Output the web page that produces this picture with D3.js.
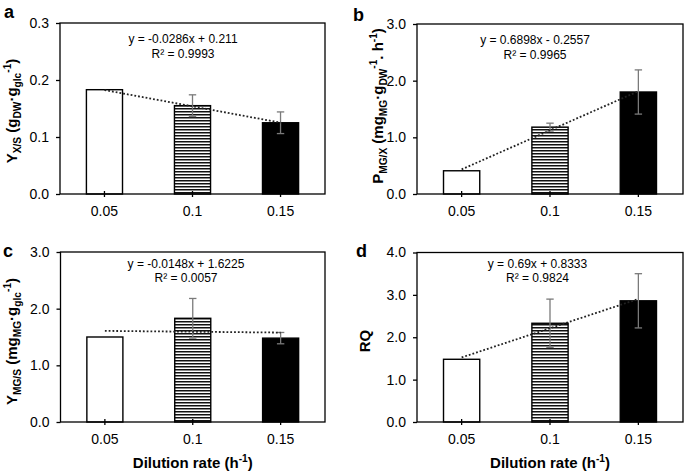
<!DOCTYPE html>
<html><head><meta charset="utf-8">
<script src="https://cdn.jsdelivr.net/npm/d3@7"></script>
<style>
body{margin:0;background:#fff}
svg{display:block;font-family:"Liberation Sans",Arial,Helvetica,sans-serif}
</style>
</head><body><svg id="chart" width="685" height="474"></svg>
<script>
// ---- data ----
const categories = ["0.05", "0.1", "0.15"];
const yxsValues  = [0.183, 0.155, 0.125];
const yxsErrors  = [0, 0.019, 0.019];
const pmgxValues = [0.41, 1.18, 1.80];
const pmgxErrors = [0, 0.07, 0.39];
const ymgsValues = [1.50, 1.83, 1.48];
const ymgsErrors = [0, 0.35, 0.10];
const rqValues   = [1.48, 2.33, 2.86];
const rqErrors   = [0, 0.57, 0.64];
const yxsTicks  = [0, 0.1, 0.2, 0.3];
const pmgxTicks = [0, 1, 2, 3];
const ymgsTicks = [0, 1, 2, 3];
const rqTicks   = [0, 1, 2, 3, 4];
const yxsTrend  = {slope: -0.0286, intercept: 0.211,  eq: "y = -0.0286x + 0.211",  r2: "R² = 0.9993"};
const pmgxTrend = {slope: 0.6898,  intercept: -0.2557, eq: "y = 0.6898x - 0.2557", r2: "R² = 0.9965"};
const ymgsTrend = {slope: -0.0148, intercept: 1.6225, eq: "y = -0.0148x + 1.6225", r2: "R² = 0.0057"};
const rqTrend   = {slope: 0.69,    intercept: 0.8333, eq: "y = 0.69x + 0.8333",    r2: "R² = 0.9824"};
const yxsLabel  = [["Y"],["X/S","sub"],[" (g"],["DW","sub"],["·g"],["glc","sub"],["-1","sup"],[")"]];
const pmgxLabel = [["P"],["MG/X","sub"],[" (mg"],["MG","sub"],["·g"],["DW","sub"],["-1","sup"],[". h"],["-1","sup"],[")"]];
const ymgsLabel = [["Y"],["MG/S","sub"],[" (mg"],["MG","sub"],["·g"],["glc","sub"],["-1","sup"],[")"]];
const rqLabel   = [["RQ"]];
const xTitle = "Dilution rate (h";

// ---- layout ----
const panels = [
  {letter:"a", values:yxsValues, errors:yxsErrors, ticks:yxsTicks, trend:yxsTrend, label:yxsLabel,
   box:{l:60, r:325, t:23, b:194}, eqX:183, eqY:[42.5,57.5], letterPos:[4,18], labPos:[17,111], xtitle:false},
  {letter:"b", values:pmgxValues, errors:pmgxErrors, ticks:pmgxTicks, trend:pmgxTrend, label:pmgxLabel,
   box:{l:417, r:683, t:24, b:194}, eqX:535, eqY:[43.5,58.5], letterPos:[353,20.5], labPos:[383,106], xtitle:false},
  {letter:"c", values:ymgsValues, errors:ymgsErrors, ticks:ymgsTicks, trend:ymgsTrend, label:ymgsLabel,
   box:{l:60.5, r:325, t:252, b:422}, eqX:186, eqY:[267.5,282], letterPos:[3,256.5], labPos:[17,341.5], xtitle:true},
  {letter:"d", values:rqValues, errors:rqErrors, ticks:rqTicks, trend:rqTrend, label:rqLabel,
   box:{l:417, r:683, t:252.5, b:422}, eqX:537.5, eqY:[267.5,282], letterPos:[356,256.5], labPos:[370,341], xtitle:true}
];

const svg = d3.select("#chart");
const defs = svg.append("defs");
const pat = defs.append("pattern").attr("id","hstripe").attr("patternUnits","userSpaceOnUse")
  .attr("width",8).attr("height",3);
pat.append("rect").attr("width",8).attr("height",3).attr("fill","#fff");
pat.append("rect").attr("width",8).attr("height",1.5).attr("fill","#111");
const fills = ["#fff","url(#hstripe)","#000"];

function richText(sel, segs, size){
  let shift = 0;
  segs.forEach(([t,kind])=>{
    let target = kind==="sub" ? 4 : kind==="sup" ? -6 : 0;
    const ts = sel.append("tspan").text(t).attr("dy", target-shift)
      .attr("font-size", kind ? size*0.68 : size);
    shift = target;
  });
}

panels.forEach(p=>{
  const g = svg.append("g");
  const x = d3.scaleBand().domain(categories).range([p.box.l,p.box.r]).paddingInner(0.59).paddingOuter(0.3);
  const y = d3.scaleLinear().domain([p.ticks[0], p.ticks[p.ticks.length-1]]).range([p.box.b,p.box.t]);

  // bars
  g.selectAll("rect.bar").data(p.values).join("rect").attr("class","bar")
    .attr("x",(d,i)=>x(categories[i])).attr("width",x.bandwidth())
    .attr("y",d=>y(d)).attr("height",d=>y(0)-y(d))
    .attr("fill",(d,i)=>fills[i]).attr("stroke","#000").attr("stroke-width",1.4);

  // error bars
  const cx = i => x(categories[i]) + x.bandwidth()/2;
  p.values.forEach((v,i)=>{
    const e = p.errors[i]; if(!e) return;
    const eg = g.append("g").attr("stroke","#7a7a7a").attr("stroke-width",1.3);
    eg.append("line").attr("x1",cx(i)).attr("x2",cx(i)).attr("y1",y(v+e)).attr("y2",y(v-e));
    eg.append("line").attr("x1",cx(i)-3.7).attr("x2",cx(i)+3.7).attr("y1",y(v+e)).attr("y2",y(v+e));
    eg.append("line").attr("x1",cx(i)-3.7).attr("x2",cx(i)+3.7).attr("y1",y(v-e)).attr("y2",y(v-e));
  });

  // trend line (index 1..n)
  const tx = [1, categories.length];
  g.append("line")
    .attr("x1",cx(0)).attr("x2",cx(categories.length-1))
    .attr("y1",y(p.trend.slope*tx[0]+p.trend.intercept))
    .attr("y2",y(p.trend.slope*tx[1]+p.trend.intercept))
    .attr("stroke","#222").attr("stroke-width",1.8).attr("stroke-dasharray","1.8,2");

  // frame
  g.append("rect").attr("x",p.box.l).attr("y",p.box.t).attr("width",p.box.r-p.box.l).attr("height",p.box.b-p.box.t)
    .attr("fill","none").attr("stroke","#000").attr("stroke-width",1.3);

  // axes
  const ya = g.append("g").attr("transform",`translate(${p.box.l},0)`)
    .call(d3.axisLeft(y).tickValues(p.ticks).tickFormat(d3.format(".1f")).tickSize(4).tickPadding(7));
  ya.select(".domain").remove();
  ya.selectAll("line").attr("stroke","#000").attr("stroke-width",1.3);
  ya.selectAll("text").attr("font-size",14).attr("font-family","Liberation Sans, Arial, sans-serif").attr("fill","#000");

  const xa = g.append("g").attr("transform",`translate(0,${p.box.b})`)
    .call(d3.axisBottom(x).tickSize(3).tickPadding(9));
  xa.select(".domain").remove();
  xa.selectAll("line").attr("y1",-3).attr("y2",3).attr("stroke","#000").attr("stroke-width",1.3);
  xa.selectAll("text").attr("font-size",14).attr("font-family","Liberation Sans, Arial, sans-serif").attr("fill","#000");

  // equation
  g.append("text").attr("x",p.eqX).attr("y",p.eqY[0]).attr("text-anchor","middle").attr("font-size",12).text(p.trend.eq);
  g.append("text").attr("x",p.eqX).attr("y",p.eqY[1]).attr("text-anchor","middle").attr("font-size",12).text(p.trend.r2);

  // panel letter
  g.append("text").attr("x",p.letterPos[0]).attr("y",p.letterPos[1]).attr("font-size",18).attr("font-weight","bold").text(p.letter);

  // y title
  const yt = g.append("text").attr("transform",`translate(${p.labPos[0]},${p.labPos[1]}) rotate(-90)`)
    .attr("text-anchor","middle").attr("font-weight","bold").attr("font-size",15);
  richText(yt, p.label, 15);

  // x title
  if(p.xtitle){
    const xt = g.append("text").attr("x",(p.box.l+p.box.r)/2).attr("y",468)
      .attr("text-anchor","middle").attr("font-weight","bold").attr("font-size",15);
    richText(xt, [[xTitle],["-1","sup"],[")"]], 15);
  }
});
</script>
</body></html>
